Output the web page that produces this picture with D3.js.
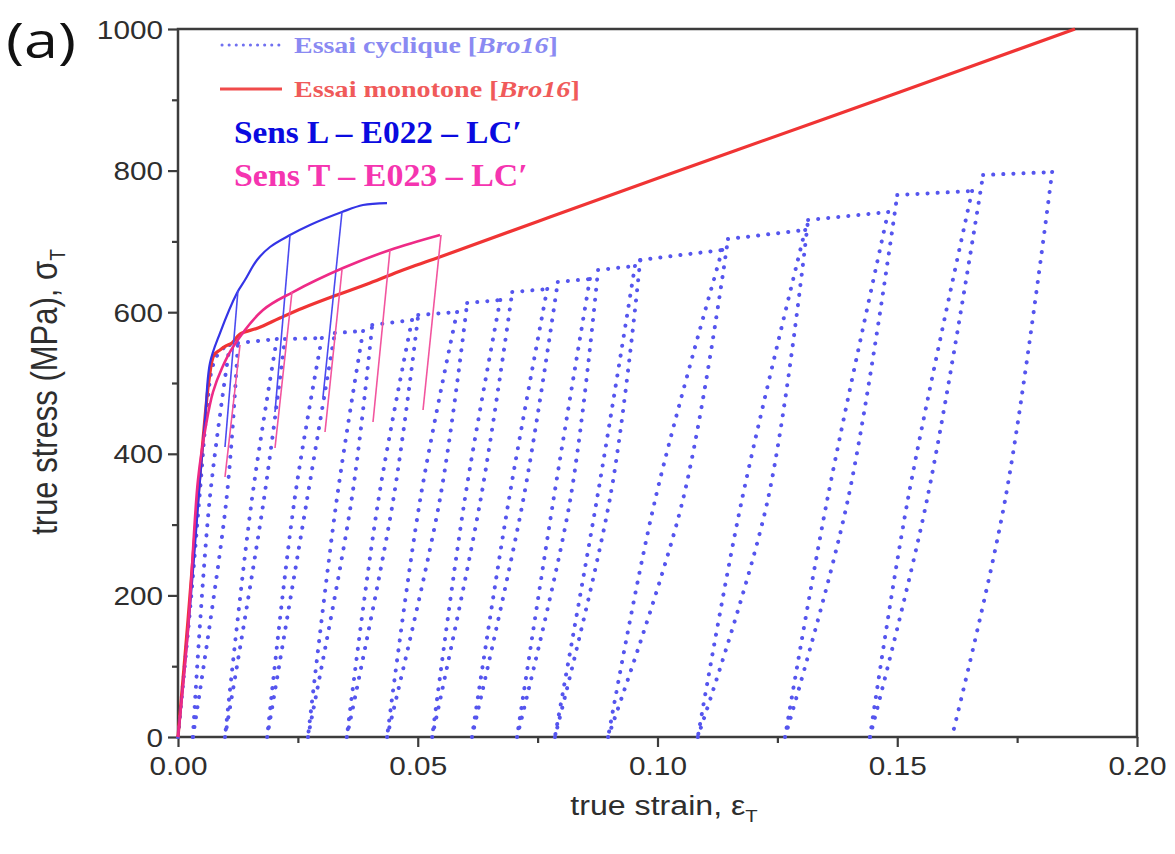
<!DOCTYPE html>
<html><head><meta charset="utf-8">
<script src="https://cdn.jsdelivr.net/npm/d3@7"></script>
<style>body{margin:0;background:#fff}</style>
</head><body><svg id="c" width="1175" height="854"></svg>
<script>
// ---------- DATA (strain, stress MPa) ----------
const xMajorTicks = [0, 0.05, 0.10, 0.15, 0.20];
const xMinorTicks = [0.025, 0.075, 0.125, 0.175];
const yMajorTicks = [0, 200, 400, 600, 800, 1000];
const yMinorTicks = [100, 300, 500, 700, 900];

// cyclic test [Bro16] – initial loading
const cycLoading = [[0,0],[0.0025,179.4],[0.0046,348.9],[0.0060,461.9],[0.0073,525.4],[0.0090,546.6]];
// top of each unloading branch
const cycUnloadTop = [[0.0108,553.7],[0.0206,562.1],[0.0300,563.6],[0.0386,573.4],[0.0488,589.0],[0.0582,600.3],[0.0672,617.2],[0.0770,632.8],[0.0859,646.9],[0.0953,665.3],[0.1135,687.9],[0.1308,716.1],[0.1481,741.5],[0.1656,771.2],[0.1823,798.0]];
// a mid point on each unloading branch
const cycUnloadMid = [[0.0066,335],[0.0154,335],[0.0243,335],[0.0331,335],[0.0418,335],[0.0505,335],[0.0598,335],[0.0690,335],[0.0783,335],[0.0876,345],[0.0995,335],[0.1176,335],[0.1354,335],[0.1522,335],[0.1725,335]];
// strain at zero stress after each unloading
const cycZeroStrain = [0.0031,0.0098,0.0186,0.0271,0.0352,0.0436,0.0530,0.0613,0.0707,0.0786,0.0897,0.1084,0.1266,0.1443,0.1614];
// a mid point on each reloading branch
const cycReloadMid = [[0.0101,335],[0.0179,335],[0.0269,335],[0.0362,335],[0.0449,335],[0.0546,335],[0.0631,335],[0.0720,335],[0.0818,335],[0.0903,345],[0.1053,335],[0.1230,335],[0.1397,335],[0.1562,335]];
// end of each reloading branch (start of next plateau)
const cycReloadTop = [[0.0125,556.5],[0.0223,562.1],[0.0327,570.6],[0.0405,581.9],[0.0501,596.0],[0.0603,613.0],[0.0697,628.5],[0.0792,642.7],[0.0876,659.6],[0.0964,673.7],[0.1147,703.4],[0.1314,730.2],[0.1500,765.5],[0.1679,793.8]];

// monotonic test [Bro16]
const monoCurve = [[0,0],[0.00209,165.3],[0.00375,306.5],[0.00521,419.5],[0.00647,504.2],[0.00751,539.5],[0.00876,546.6],[0.01001,552.3],[0.01126,556.5],[0.01293,569.2],[0.01668,577.7],[0.02127,591.8],[0.02607,605.9],[0.03316,624.3],[0.04004,641.2],[0.04692,659.6],[0.05401,676.5],[0.07758,734.5],[0.11658,829.1],[0.15057,911.0],[0.18707,1000]];

// Sens L – E022
const sensLCurve = [[0,0],[0.00229,165.3],[0.00459,363.0],[0.00563,447.7],[0.00667,528.3],[0.00876,570.6],[0.01230,627.1],[0.01397,645.5],[0.01648,673.7],[0.01919,692.1],[0.02336,709.0],[0.02753,723.2],[0.03420,741.5],[0.03858,751.4],[0.04359,754.2]];
const sensLUnloads = [[[0.01251,631.4],[0.0098,409.6]],[[0.02336,709.0],[0.02023,459.0]],[[0.0342,741.5],[0.03024,480.2]]];

// Sens T – E023
const sensTCurve = [[0,0],[0.00209,151.1],[0.00417,363.0],[0.00584,440.7],[0.0073,487.3],[0.00918,521.2],[0.01147,550.8],[0.01773,603.1],[0.02398,628.5],[0.03441,662.4],[0.04421,687.9],[0.05464,709.0]];
const sensTUnloads = [[[0.01293,553.7],[0.0098,367.2]],[[0.02377,628.5],[0.02023,408.2]],[[0.0342,659.6],[0.03066,430.8]],[[0.04421,687.9],[0.04067,444.9]],[[0.05485,709.0],[0.0511,461.9]]];

const legendLabels = ["Essai cyclique [", "Bro16", "]", "Essai monotone [", "Bro16", "]"];
const seriesLabels = ["Sens L – E022 – LC′", "Sens T – E023 – LC′"];

// ---------- CHART ----------
const svg = d3.select('#c');
const x = d3.scaleLinear().domain([0, 0.2]).range([178, 1137]);
const y = d3.scaleLinear().domain([0, 1000]).range([737, 29]);
const line = d3.line().x(d => x(d[0])).y(d => y(d[1]));
const smooth = d3.line().x(d => x(d[0])).y(d => y(d[1])).curve(d3.curveCatmullRom.alpha(0.5));

const AXC = '#3c3c3c';
const SX = 1.19; // horizontal stretch of the original figure's lettering
const sansF = '"Liberation Sans", Arial, sans-serif';
const serifF = '"Liberation Serif", "DejaVu Serif", serif';

// fit a text element to a target width, anchored at (x0, y0) left baseline
function fitText(t, x0, y0, w) {
  const n = t.node().getComputedTextLength();
  t.attr('x', 0).attr('y', 0).attr('transform', `translate(${x0},${y0}) scale(${w / n},1)`);
}

// axes
const gy = svg.append('g').attr('transform', `translate(${x(0)},0)`)
  .call(d3.axisLeft(y).tickValues(yMajorTicks).tickSize(10).tickPadding(5).tickFormat(d3.format('d')));
const gym = svg.append('g').attr('transform', `translate(${x(0)},0)`)
  .call(d3.axisLeft(y).tickValues(yMinorTicks).tickSize(6).tickFormat(''));
const gx = svg.append('g').attr('transform', `translate(0,${y(0)})`)
  .call(d3.axisBottom(x).tickValues(xMajorTicks).tickSize(10).tickPadding(10).tickFormat(d3.format('.2f')));
const gxm = svg.append('g').attr('transform', `translate(0,${y(0)})`)
  .call(d3.axisBottom(x).tickValues(xMinorTicks).tickSize(6).tickFormat(''));
[gy, gym, gx, gxm].forEach(g => {
  g.select('.domain').remove();
  g.selectAll('line').attr('stroke', AXC).attr('stroke-width', 2.2);
  g.selectAll('text').attr('fill', '#2e2e2e').style('font-family', sansF).style('font-size', '25px');
});
gy.selectAll('text').attr('x', -15 / SX).attr('dy', '0.36em').attr('transform', `scale(${SX},1)`);
gx.selectAll('text').attr('transform', `scale(${SX},1)`);

// frame
svg.append('rect').attr('x', x(0)).attr('y', y(1000)).attr('width', x(0.2) - x(0)).attr('height', y(0) - y(1000))
  .attr('fill', 'none').attr('stroke', AXC).attr('stroke-width', 2.5);

// cyclic dotted curve
const cycSegs = [];
cycSegs.push(cycLoading.concat([cycUnloadTop[0]]));
cycUnloadTop.forEach((u, k) => {
  cycSegs.push([u, cycUnloadMid[k], [cycZeroStrain[k], 0]]);
  if (k < cycReloadTop.length) {
    cycSegs.push([[cycZeroStrain[k], 0], cycReloadMid[k], cycReloadTop[k]]);
    cycSegs.push([cycReloadTop[k], cycUnloadTop[k + 1]]);
  }
});
const DOT = '#5555ee';
svg.append('g').selectAll('path').data(cycSegs).join('path')
  .attr('d', d => smooth(d)).attr('fill', 'none').attr('stroke', DOT)
  .attr('stroke-width', 4).attr('stroke-linecap', 'round').attr('stroke-dasharray', '0.1 10');

// monotonic red
svg.append('path').attr('d', smooth(monoCurve)).attr('fill', 'none')
  .attr('stroke', '#f03434').attr('stroke-width', 3.2);

// Sens L blue
svg.append('path').attr('d', smooth(sensLCurve)).attr('fill', 'none')
  .attr('stroke', '#3434e6').attr('stroke-width', 2.2);
svg.append('g').selectAll('path').data(sensLUnloads).join('path')
  .attr('d', d => line(d)).attr('fill', 'none').attr('stroke', '#4a4af0').attr('stroke-width', 1.6);

// Sens T pink
svg.append('path').attr('d', smooth(sensTCurve)).attr('fill', 'none')
  .attr('stroke', '#ee2a86').attr('stroke-width', 2.6);
svg.append('g').selectAll('path').data(sensTUnloads).join('path')
  .attr('d', d => line(d)).attr('fill', 'none').attr('stroke', '#f2559e').attr('stroke-width', 1.6);

// legend
svg.append('line').attr('x1', 222).attr('x2', 282).attr('y1', 45).attr('y2', 45)
  .attr('stroke', '#7070f0').attr('stroke-width', 3).attr('stroke-linecap', 'round').attr('stroke-dasharray', '0.1 7');
svg.append('line').attr('x1', 220).attr('x2', 282).attr('y1', 89).attr('y2', 89)
  .attr('stroke', '#f04a4a').attr('stroke-width', 3);
function legText(x0, yy, w, parts, color) {
  const t = svg.append('text').attr('fill', color)
    .style('font-family', serifF).style('font-size', '24px').style('font-weight', '600');
  t.append('tspan').text(parts[0]);
  t.append('tspan').style('font-style', 'italic').text(parts[1]);
  t.append('tspan').text(parts[2]);
  fitText(t, x0, yy, w);
}
legText(294, 53, 264, legendLabels.slice(0, 3), '#8a8af2');
legText(294, 97, 286, legendLabels.slice(3, 6), '#f05a5a');
const s1 = svg.append('text').attr('fill', '#0a0ae0')
  .style('font-family', serifF).style('font-size', '32px').style('font-weight', 'bold').text(seriesLabels[0]);
fitText(s1, 234, 143, 288);
const s2 = svg.append('text').attr('fill', '#f535b0')
  .style('font-family', serifF).style('font-size', '32px').style('font-weight', 'bold').text(seriesLabels[1]);
fitText(s2, 234, 186, 294);

// panel label
const pa = svg.append('text').attr('fill', '#111')
  .style('font-family', '"Open Sans", "DejaVu Sans", sans-serif').style('font-size', '50px').text('(a)');
fitText(pa, 6, 58, 70);

// axis titles
const yt = svg.append('text').attr('transform', `translate(57,392) scale(${SX},1) rotate(-90)`).attr('text-anchor', 'middle')
  .attr('fill', '#2e2e2e').style('font-family', sansF).style('font-size', '31px');
yt.append('tspan').text('true stress (MPa), σ');
yt.append('tspan').attr('dy', 7).style('font-size', '19px').text('T');
const xt = svg.append('text').attr('transform', `translate(664,815) scale(${SX},1)`).attr('text-anchor', 'middle')
  .attr('fill', '#2e2e2e').style('font-family', sansF).style('font-size', '27px');
xt.append('tspan').text('true strain, ε');
xt.append('tspan').attr('dy', 7).style('font-size', '17px').text('T');
</script></body></html>
